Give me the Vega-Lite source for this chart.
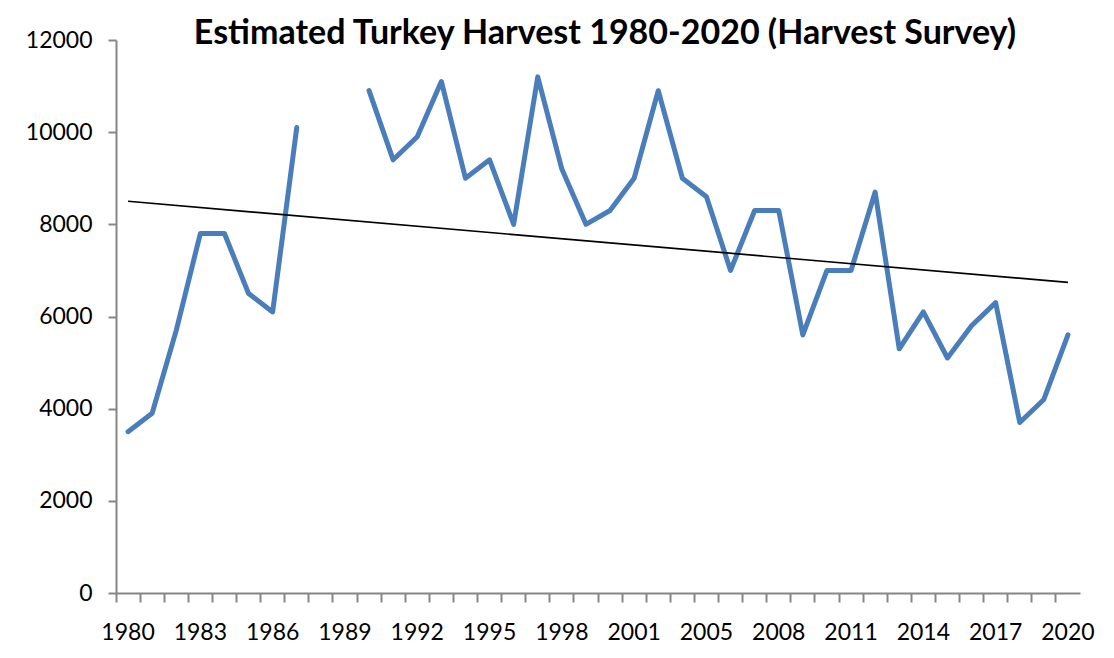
{
  "$schema": "https://vega.github.io/schema/vega-lite/v6.json",
  "width": 964,
  "height": 553,
  "autosize": "none",
  "padding": {"left": 116, "top": 40, "right": 34, "bottom": 65},
  "background": "white",
  "config": {
    "view": {"stroke": null},
    "font": "Lato"
  },
  "title": {
    "text": "Estimated Turkey Harvest 1980-2020 (Harvest Survey)",
    "font": "Lato",
    "fontSize": 34,
    "fontWeight": "bold",
    "color": "black",
    "anchor": "middle",
    "baseline": "alphabetic",
    "offset": -49,
    "dx": 7
  },
  "datasets": {
    "harvest": [
      {"Year": "1980", "Harvest": 3500},
      {"Year": "1981", "Harvest": 3900},
      {"Year": "1982", "Harvest": 5700},
      {"Year": "1983", "Harvest": 7800},
      {"Year": "1984", "Harvest": 7800},
      {"Year": "1985", "Harvest": 6500},
      {"Year": "1986", "Harvest": 6100},
      {"Year": "1987", "Harvest": 10100},
      {"Year": "1988", "Harvest": null},
      {"Year": "1989", "Harvest": null},
      {"Year": "1990", "Harvest": 10900},
      {"Year": "1991", "Harvest": 9400},
      {"Year": "1992", "Harvest": 9900},
      {"Year": "1993", "Harvest": 11100},
      {"Year": "1994", "Harvest": 9000},
      {"Year": "1995", "Harvest": 9400},
      {"Year": "1996", "Harvest": 8000},
      {"Year": "1997", "Harvest": 11200},
      {"Year": "1998", "Harvest": 9200},
      {"Year": "1999", "Harvest": 8000},
      {"Year": "2000", "Harvest": 8300},
      {"Year": "2001", "Harvest": 9000},
      {"Year": "2002", "Harvest": 10900},
      {"Year": "2003", "Harvest": 9000},
      {"Year": "2005", "Harvest": 8600},
      {"Year": "2006", "Harvest": 7000},
      {"Year": "2007", "Harvest": 8300},
      {"Year": "2008", "Harvest": 8300},
      {"Year": "2009", "Harvest": 5600},
      {"Year": "2010", "Harvest": 7000},
      {"Year": "2011", "Harvest": 7000},
      {"Year": "2012", "Harvest": 8700},
      {"Year": "2013", "Harvest": 5300},
      {"Year": "2014", "Harvest": 6100},
      {"Year": "2015", "Harvest": 5100},
      {"Year": "2016", "Harvest": 5800},
      {"Year": "2017", "Harvest": 6300},
      {"Year": "2018", "Harvest": 3700},
      {"Year": "2019", "Harvest": 4200},
      {"Year": "2020", "Harvest": 5600}
    ],
    "trend": [
      {"Year": "1980", "Trend": 8500},
      {"Year": "2020", "Trend": 6740}
    ]
  },
  "encoding": {
    "x": {
      "field": "Year",
      "type": "ordinal",
      "scale": {"type": "band", "paddingInner": 0, "paddingOuter": 0},
      "axis": {
        "title": null,
        "labelAngle": 0,
        "labelFont": "Lato",
        "labelFontSize": 23,
        "labelColor": "black",
        "labelPadding": 19,
        "labelExpr": "indexof(['1980','1983','1986','1989','1992','1995','1998','2001','2005','2008','2011','2014','2017','2020'], datum.label) >= 0 ? datum.label : ''",
        "bandPosition": 0,
        "tickSize": 9,
        "tickColor": "#868686",
        "tickWidth": 2,
        "domainColor": "#868686",
        "domainWidth": 2,
        "grid": false
      }
    }
  },
  "layer": [
    {
      "data": {"name": "harvest"},
      "mark": {"type": "line", "color": "#4A7EBB", "strokeWidth": 5, "strokeCap": "round", "strokeJoin": "round", "invalid": "break-paths-show-domains"},
      "encoding": {
        "y": {
          "field": "Harvest",
          "type": "quantitative",
          "scale": {"domain": [0, 12000], "nice": false},
          "axis": {
            "title": null,
            "values": [0, 2000, 4000, 6000, 8000, 10000, 12000],
            "format": "d",
            "labelFont": "Lato",
            "labelFontSize": 23,
            "labelColor": "black",
            "labelPadding": 16,
            "tickSize": 8,
            "tickColor": "#868686",
            "tickWidth": 2,
            "domainColor": "#868686",
            "domainWidth": 2,
            "grid": false
          }
        }
      }
    },
    {
      "data": {"name": "trend"},
      "mark": {"type": "line", "color": "black", "strokeWidth": 1.6},
      "encoding": {
        "y": {"field": "Trend", "type": "quantitative"}
      }
    }
  ]
}
